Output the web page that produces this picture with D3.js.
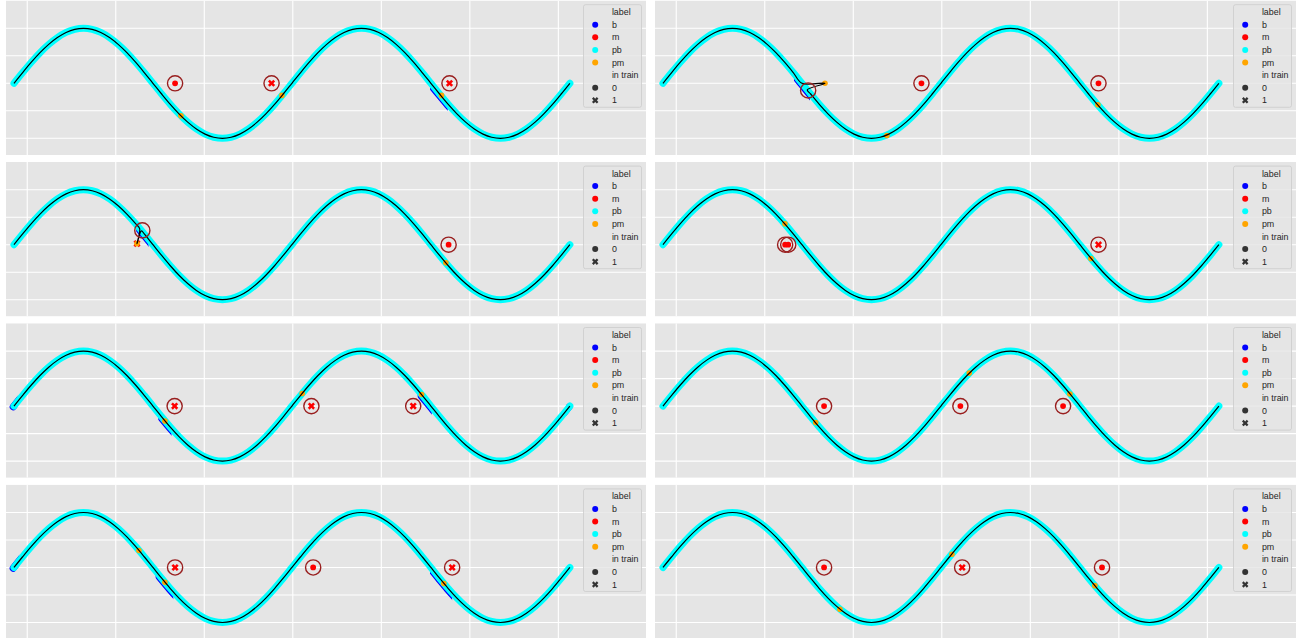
<!DOCTYPE html>
<html>
<meta charset="utf-8">
<head>
    <script src="https://d3js.org/d3.v7.min.js"></script>
    <style>
        body { margin: 0; background: #fff; }
    </style>
</head>
<body>
    <script>
        // sine signal, 65 samples over two periods (x = sample index 0..628)
        var sineY = [0, 0.195, 0.383, 0.556, 0.707, 0.831, 0.924, 0.981, 1, 0.981, 0.924, 0.831, 0.707, 0.556, 0.383, 0.195,
                     0, -0.195, -0.383, -0.556, -0.707, -0.831, -0.924, -0.981, -1, -0.981, -0.924, -0.831, -0.707, -0.556, -0.383, -0.195,
                     0, 0.195, 0.383, 0.556, 0.707, 0.831, 0.924, 0.981, 1, 0.981, 0.924, 0.831, 0.707, 0.556, 0.383, 0.195,
                     0, -0.195, -0.383, -0.556, -0.707, -0.831, -0.924, -0.981, -1, -0.981, -0.924, -0.831, -0.707, -0.556, -0.383, -0.195, 0];
        var lastIndex = 628;

        var xTicks = [15, 115, 215, 315, 415, 515, 615];
        var yTicks = [-1, -0.5, 0, 0.5, 1];

        // anomaly rings (x index, y)
        var ringX = [[182, 291, 492], [164, 292, 492], [145, 491], [138, 141.5, 492], [181.5, 336, 451], [182, 336, 452], [182, 338, 495], [182, 338, 496]];
        var ringY = [[0, 0, 0], [-0.13, 0, 0], [0.26, 0], [0, 0, 0], [0, 0, 0], [0, 0, 0], [0, 0, 0], [0, 0, 0]];

        // label "m" points: x index, y, in train (0 dot / 1 cross)
        var mX = [[182, 291, 492], [292, 492], [139, 491], [138, 141.5, 492], [181.5, 336, 451], [182, 336, 452], [182, 338, 495], [182, 338, 496]];
        var mY = [[0, 0, 0], [0, 0], [0.02, 0], [0, 0, 0], [0, 0, 0], [0, 0, 0], [0, 0, 0], [0, 0, 0]];
        var mTrain = [[0, 1, 1], [0, 0], [1, 0], [0, 0, 1], [1, 1, 1], [0, 0, 0], [1, 0, 1], [0, 1, 0]];

        // label "pm" points
        var pmX = [[188.6, 302.7, 483], [183, 253, 491.3], [139, 487.9], [137.8, 483.4], [170.5, 325.6, 460.5], [172.5, 346, 459.7], [141.2, 170.5, 485.6], [199.9, 326.4, 487.9]];
        var pmY = [[-0.59, -0.22, -0.22], [0, -0.95, -0.39], [0.02, -0.33], [0.38, -0.25], [-0.27, 0.23, 0.21], [-0.3, 0.6, 0.22], [0.31, -0.27, -0.29], [-0.76, 0.24, -0.33]];

        // stretches labelled "b"
        var bRanges = [[[470, 490]], [[148, 166]], [[138, 152]], [], [[-10, 4], [163, 178], [456, 472], [624, 640]], [], [[-10, 6], [160, 180], [470, 495]], []];

        // detours of the signal line
        var loopAfter = [-1, 16, 14, -1, -1, -1, -1, -1];
        var loopPts = [[], [[183, 0], [163, -0.12]], [[142, 0.29], [139, 0.02], [144, 0.25]], [], [], [], [], []];

        var legendLabels = ["label", "b", "m", "pb", "pm", "in train", "0", "1"];
        var legendColors = [null, "#0000ff", "#ff0000", "#00ffff", "#ffa500", null, "#333333", "#333333"];

        var width = 1296, height = 638;
        var colLeft = [6, 655], colW = [640, 641];
        var panelH = 154.5;

        var svg = d3.select("body").append("svg")
            .attr("width", width)
            .attr("height", height)
            .style("font-family", "'Liberation Sans', Arial, sans-serif");

        var samples = sineY.map(function(d, i) { return [i * lastIndex / (sineY.length - 1), d]; });

        function drawPanel(p) {
            var col = p % 2, row = Math.floor(p / 2);
            var pLeft = colLeft[col], pTop = 0.5 + row * 161.4;
            var pRight = pLeft + colW[col];

            var x = d3.scaleLinear().domain([-9, 714]).range([pLeft, pLeft + 640]);
            var y = d3.scaleLinear().domain([-1.304, 1.505]).range([pTop + panelH, pTop]);

            var line = d3.line()
                .x(function(d) { return x(d[0]); })
                .y(function(d) { return y(d[1]); })
                .curve(d3.curveCatmullRom.alpha(0.5));

            svg.append("clipPath").attr("id", "clip" + p)
                .append("rect").attr("x", pLeft).attr("y", pTop).attr("width", colW[col]).attr("height", panelH);
            var g = svg.append("g").attr("clip-path", "url(#clip" + p + ")");

            g.append("rect")
                .attr("x", pLeft).attr("y", pTop)
                .attr("width", colW[col]).attr("height", panelH)
                .attr("fill", "#e5e5e5");

            g.selectAll(".vg").data(xTicks).enter().append("line")
                .attr("x1", function(d) { return x(d); }).attr("x2", function(d) { return x(d); })
                .attr("y1", pTop).attr("y2", pTop + panelH)
                .attr("stroke", "#fff").attr("stroke-width", 1.1);
            g.selectAll(".hg").data(yTicks).enter().append("line")
                .attr("x1", pLeft).attr("x2", pRight)
                .attr("y1", function(d) { return y(d); }).attr("y2", function(d) { return y(d); })
                .attr("stroke", "#fff").attr("stroke-width", 1.1);

            // blue "b" stretches, slightly offset under the cyan band
            if (bRanges[p].length) {
                var bc = svg.append("clipPath").attr("id", "bclip" + p);
                bRanges[p].forEach(function(r) {
                    bc.append("rect").attr("x", x(r[0])).attr("y", pTop)
                        .attr("width", x(r[1]) - x(r[0])).attr("height", panelH);
                });
                g.append("g").attr("clip-path", "url(#bclip" + p + ")")
                    .append("path")
                    .attr("d", line(samples))
                    .attr("transform", "translate(-0.8,0.8)")
                    .attr("fill", "none").attr("stroke", "#0000ff")
                    .attr("stroke-width", 7).attr("stroke-linecap", "round");
            }

            // "pb" band
            g.append("path")
                .attr("d", line(samples))
                .attr("fill", "none").attr("stroke", "#00ffff")
                .attr("stroke-width", 7).attr("stroke-linecap", "round").attr("stroke-linejoin", "round");

            // red markers
            var ms = mX[p].map(function(d, i) { return [d, mY[p][i], mTrain[p][i]]; });
            g.selectAll(".m").data(ms).enter().append("path")
                .attr("transform", function(d) { return "translate(" + x(d[0]) + "," + y(d[1]) + ")" + (d[2] ? " rotate(45)" : ""); })
                .attr("d", function(d) { return d[2] ? d3.symbol(d3.symbolCross, 32)() : d3.symbol(d3.symbolCircle, 26)(); })
                .attr("fill", "#ff0000");

            // orange "pm" points
            var pms = pmX[p].map(function(d, i) { return [d, pmY[p][i]]; });
            g.selectAll(".pm").data(pms).enter().append("circle")
                .attr("cx", function(d) { return x(d[0]); })
                .attr("cy", function(d) { return y(d[1]); })
                .attr("r", 2.8)
                .attr("fill", "#ffa500");

            // signal line
            var pts = [];
            samples.forEach(function(s, k) {
                pts.push(s);
                if (k === loopAfter[p]) loopPts[p].forEach(function(q) { pts.push(q); });
            });
            g.append("path")
                .attr("d", line(pts))
                .attr("fill", "none").attr("stroke", "#000")
                .attr("stroke-width", 1.2);

            // rings
            var rs = ringX[p].map(function(d, i) { return [d, ringY[p][i]]; });
            g.selectAll(".ring").data(rs).enter().append("circle")
                .attr("cx", function(d) { return x(d[0]); })
                .attr("cy", function(d) { return y(d[1]); })
                .attr("r", 7.6)
                .attr("fill", "none")
                .attr("stroke", "#991f1f").attr("stroke-width", 1.4);

            // legend
            var lx = pRight - 62.5, ly = pTop + 4.2;
            var lg = svg.append("g").attr("transform", "translate(" + lx + "," + ly + ")");
            lg.append("rect")
                .attr("width", 58).attr("height", 102.6).attr("rx", 2)
                .attr("fill", "#e5e5e5").attr("fill-opacity", 0.8)
                .attr("stroke", "#cccccc").attr("stroke-width", 0.8);
            var items = lg.selectAll(".it").data(legendLabels).enter().append("g")
                .attr("transform", function(d, i) { return "translate(0," + (7.4 + i * 12.6) + ")"; });
            items.filter(function(d, i) { return legendColors[i] && d !== "1"; })
                .append("circle")
                .attr("cx", 11.7).attr("r", 3)
                .attr("fill", function(d) { return legendColors[legendLabels.indexOf(d)]; });
            items.filter(function(d) { return d === "1"; })
                .append("path")
                .attr("transform", "translate(11.7,0) rotate(45)")
                .attr("d", d3.symbol(d3.symbolCross, 26)())
                .attr("fill", "#333333");
            items.append("text")
                .attr("x", 28.4)
                .attr("dy", "0.35em")
                .attr("font-size", 8.9)
                .attr("fill", "#262626")
                .text(function(d) { return d; });
        }

        for (var p = 0; p < 8; p++) drawPanel(p);
    </script>
</body>
</html>
